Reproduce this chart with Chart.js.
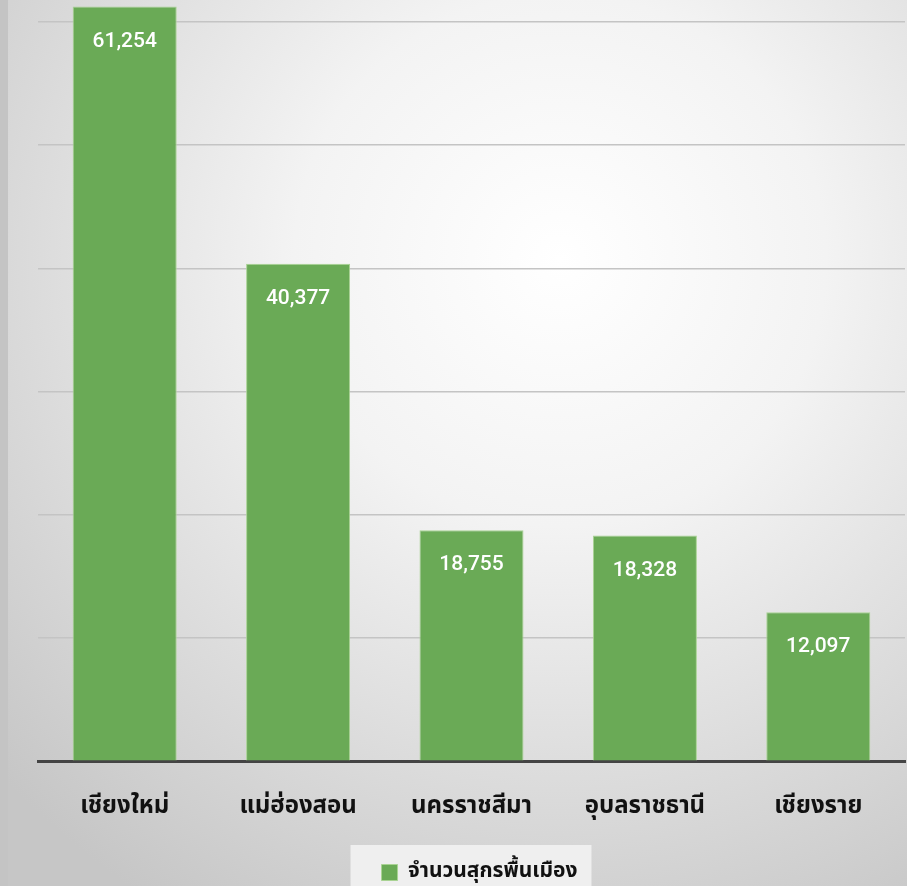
<!DOCTYPE html>
<html>
<head>
<meta charset="utf-8">
<script src="https://cdn.jsdelivr.net/npm/chart.js@4.4.1/dist/chart.umd.min.js"></script>
<style>
  html, body { margin: 0; padding: 0; background: #d8d8d8; }
  #wrap { position: relative; width: 907px; height: 886px; }
</style>
</head>
<body>
<div id="wrap"><canvas id="pigChart" width="907" height="886"></canvas></div>
<script>
// Native pig numbers by province
const provinces = ["เชียงใหม่", "แม่ฮ่องสอน", "นครราชสีมา", "อุบลราชธานี", "เชียงราย"];
const pigCounts = [61254, 40377, 18755, 18328, 12097];
const seriesName = "จำนวนสุกรพื้นเมือง";
// gridline values (the axis itself carries no numbers)
const yTicks = [0, 10000, 20000, 30000, 40000, 50000, 60000];

const thaiFont = "'Noto Sans Thai', 'Noto Sans', 'DejaVu Sans', sans-serif";

// Soft radial backdrop plus the grey frame edge on the left
const backdrop = {
  id: "backdrop",
  beforeDraw(chart) {
    const { ctx, width, height } = chart;
    ctx.save();
    const g = ctx.createRadialGradient(560, 260, 0, 560, 260, 760);
    g.addColorStop(0, "#ffffff");
    g.addColorStop(0.35, "#f3f3f3");
    g.addColorStop(1, "#c6c6c6");
    ctx.fillStyle = g;
    ctx.fillRect(0, 0, width, height);
    ctx.fillStyle = "#c4c4c4";
    ctx.fillRect(0, 0, 8, height);
    ctx.restore();
  }
};

// Nudge the legend a little right and put a light panel behind it
const legendPanel = {
  id: "legendPanel",
  afterLayout(chart) {
    const lg = chart.legend;
    if (lg) { lg.left += 8; lg.right += 8; }
  },
  beforeDraw(chart) {
    const lg = chart.legend;
    if (!lg || !lg.legendHitBoxes.length) return;
    const hb = lg.legendHitBoxes[0];
    const { ctx } = chart;
    ctx.save();
    ctx.fillStyle = "#efefef";
    ctx.fillRect(hb.left - 31, hb.top - 17, hb.width + 45, chart.height - hb.top + 17);
    ctx.restore();
  }
};

// Value labels printed near the top of each bar
const barValues = {
  id: "barValues",
  afterDatasetsDraw(chart) {
    const { ctx } = chart;
    const meta = chart.getDatasetMeta(0);
    ctx.save();
    ctx.fillStyle = "#ffffff";
    ctx.font = "500 21px Roboto, sans-serif";
    ctx.textAlign = "center";
    ctx.textBaseline = "middle";
    meta.data.forEach((bar, i) => {
      ctx.fillText(pigCounts[i].toLocaleString("en-US"), bar.x, bar.y + 35);
    });
    ctx.restore();
  }
};

new Chart(document.getElementById("pigChart"), {
  type: "bar",
  data: {
    labels: provinces,
    datasets: [{
      label: seriesName,
      data: pigCounts,
      backgroundColor: "#6aaa56",
      borderColor: "#a9d393",
      borderWidth: 1,
      categoryPercentage: 1,
      barPercentage: 0.6
    }]
  },
  options: {
    responsive: false,
    animation: false,
    layout: { padding: { left: 38, right: 2, top: 0, bottom: -7 } },
    plugins: {
      legend: {
        position: "bottom",
        fullSize: false,
        labels: {
          boxWidth: 16,
          boxHeight: 16,
          color: "#111111",
          padding: 14,
          font: { family: thaiFont, size: 21, weight: "bold" }
        }
      },
      tooltip: { enabled: false }
    },
    scales: {
      x: {
        grid: { display: false },
        border: { color: "#444444", width: 3 },
        ticks: {
          color: "#111111",
          padding: 25,
          font: { family: thaiFont, size: 24, weight: "bold" }
        }
      },
      y: {
        min: 0,
        max: 61790,
        ticks: { display: false },
        afterBuildTicks: (scale) => {
          scale.ticks = yTicks.map((v) => ({ value: v }));
        },
        border: { display: false },
        grid: {
          lineWidth: 1.5,
          drawTicks: false,
          color: "#c4c4c4"
        }
      }
    }
  },
  plugins: [backdrop, legendPanel, barValues]
});
</script>
</body>
</html>
